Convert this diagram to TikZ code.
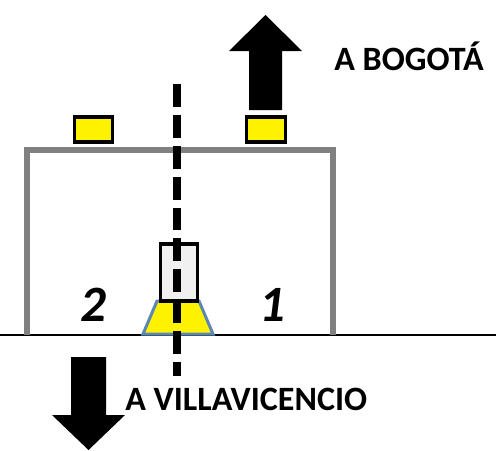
\documentclass[tikz,border=0pt]{standalone}
\usepackage{fontspec}
\setmainfont{Carlito}
\definecolor{trapedge}{HTML}{5B87B5}
\tikzset{
    signbox/.style={rectangle, draw=black, line width=3.5*0.567pt, fill=yellow, inner sep=0pt, minimum width=38.5*0.02cm, minimum height=25*0.02cm},
    portal/.style={draw=gray, line width=6.5*0.567pt, line join=miter},
    bigarrow/.style={fill=black, draw=none},
    townlabel/.style={font=\bfseries\fontsize{19.4}{22}\selectfont, anchor=west, inner sep=0pt},
    sidelabel/.style={font=\bfseries\itshape\fontsize{29}{31}\selectfont, inner sep=0pt}
}
\begin{document}
\begin{tikzpicture}[x=0.02cm, y=-0.02cm]
    \useasboundingbox (0,0) rectangle (496,450);

    % Road and gantry
    \coordinate (roadw) at (0,335);
    \coordinate (roade) at (496,335);
    \draw[line width=1.5*0.567pt] (roadw) -- (roade);
    \draw[portal] (27,335) -- (27,150) -- (333,150) -- (333,335);

    % Signs on top
    \node[signbox] (signl) at (93.5,129.5) {};
    \node[signbox] (signr) at (266,129.5) {};

    % Vehicle
    \draw[draw=trapedge, line width=3*0.567pt, fill=yellow] (157,301) -- (199,301) -- (213,334) -- (143,334) -- cycle;
    \node[rectangle, draw=black, line width=3.5*0.567pt, fill=black!6, inner sep=0pt,
        minimum width=37*0.02cm, minimum height=57*0.02cm] (cab) at (179,272.5) {};

    % Centre line
    \coordinate (axist) at (177,84);
    \coordinate (axisb) at (177,376);
    \draw[line width=8*0.567pt, dash pattern=on 23*0.567pt off 8*0.567pt] (axist) -- (axisb);

    % Direction arrows
    \fill[bigarrow] (265.5,15) -- (302,51) -- (282,51) -- (282,110) -- (249,110) -- (249,51) -- (229,51) -- cycle;
    \fill[bigarrow] (88.5,450) -- (125,415) -- (106,415) -- (106,357) -- (71,357) -- (71,415) -- (52,415) -- cycle;

    % Labels
    \node[townlabel] (bogota) at (334,56) {A BOGOTÁ};
    \node[townlabel] (villa) at (125,399) {A VILLAVICENCIO};
    \node[sidelabel] (lane2) at (93,305) {2};
    \node[sidelabel] (lane1) at (272,305) {1};
\end{tikzpicture}
\end{document}
